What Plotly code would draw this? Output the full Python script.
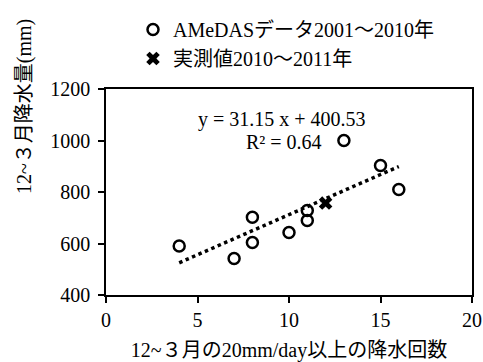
import plotly.graph_objects as go

# AMeDAS data 2001-2010
amedas_x = [4, 7, 8, 8, 10, 11, 11, 13, 15, 16]
amedas_y = [590, 542, 604, 702, 643, 689, 728, 1000, 903, 810]
# Measured 2010-2011
obs_x = [12]
obs_y = [757]
# Trend line (from equation in chart)
slope = 31.15
intercept = 400.53

amedas_name = "AMeDASデータ2001～2010年"
obs_name = "実測値2010～2011年"
x_title = "12~３月の20mm/day以上の降水回数"
y_title = "12~３月降水量(mm)"
eq_text = "y = 31.15 x + 400.53"
r2_text = "R² = 0.64"

FONT = "Liberation Serif, Noto Sans CJK JP, serif"

tx = [min(amedas_x), max(amedas_x)]
ty = [slope * v + intercept for v in tx]

fig = go.Figure()
fig.add_trace(go.Scatter(
    x=tx, y=ty, mode="lines", showlegend=False,
    line=dict(color="black", width=3.5, dash="dot"), hoverinfo="skip"))
fig.add_trace(go.Scatter(
    x=amedas_x, y=amedas_y, mode="markers", name=amedas_name,
    marker=dict(symbol="circle-open", size=11, color="black",
                line=dict(width=2.5, color="black"))))
fig.add_trace(go.Scatter(
    x=obs_x, y=obs_y, mode="markers", name=obs_name,
    marker=dict(symbol="x", size=12, color="black",
                line=dict(width=0))))

fig.add_annotation(x=9.62, y=1080, text=eq_text, showarrow=False,
                   font=dict(size=20, color="black", family=FONT))
fig.add_annotation(x=9.7, y=995, text=r2_text, showarrow=False,
                   font=dict(size=20, color="black", family=FONT))
fig.add_annotation(xref="paper", yref="paper", x=(24 - 106) / 366, y=(295 - 107) / 206,
                   text=y_title, textangle=-90, showarrow=False,
                   xanchor="center", yanchor="middle",
                   font=dict(size=20, color="black", family=FONT))

axis_common = dict(showline=True, linecolor="black", linewidth=1.5, mirror=True,
                   ticks="outside", ticklen=6, tickwidth=1.5, tickcolor="black",
                   showgrid=False, zeroline=False,
                   tickfont=dict(size=20, color="black", family=FONT))

fig.update_xaxes(range=[0, 20], dtick=5, **axis_common,
                 title=dict(text=x_title, font=dict(size=20, color="black", family=FONT),
                            standoff=14))
fig.update_yaxes(range=[400, 1200], dtick=200, ticklabelstandoff=4, **axis_common)

fig.update_layout(
    width=483, height=362,
    margin=dict(l=106, r=11, t=89, b=67, autoexpand=False),
    paper_bgcolor="white", plot_bgcolor="white",
    font=dict(family=FONT, size=20, color="black"),
    legend=dict(x=(133 - 106) / 366, y=1 + (89 - 10) / 206,
                xanchor="left", yanchor="top", bgcolor="rgba(0,0,0,0)",
                font=dict(size=20, family=FONT, color="black"),
                tracegroupgap=0),
    showlegend=True,
)

fig.write_html("out.html")
